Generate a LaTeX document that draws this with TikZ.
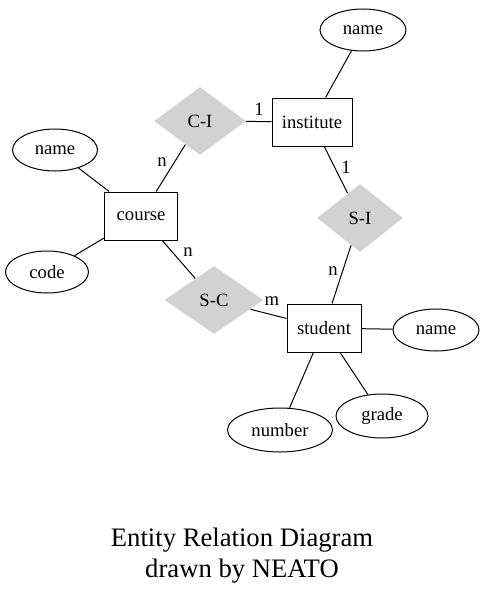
\documentclass[tikz,border=0pt]{standalone}
\usepackage{fontspec}
\setmainfont{Liberation Serif}
\usetikzlibrary{shapes.geometric}

\begin{document}
\begin{tikzpicture}[x=1pt, y=1pt, line width=1pt,
  every node/.style = {font=\fontsize{18.67}{22}\selectfont, inner sep=0pt},
  entity/.style = {draw, rectangle, minimum height=48pt},
  attr/.style = {draw, ellipse, minimum height=42pt},
  rel/.style = {diamond, fill=lightgray!70, minimum height=68pt},
  card/.style = {}]
\useasboundingbox (0,0) rectangle (485,-597);

\node[entity, minimum width=80pt] (institute) at (312, -122) { institute };
\node[entity, minimum width=73pt] (course) at (141, -216) { course };
\node[entity, minimum width=74pt] (student) at (324, -328) { student };

\node[attr, minimum width=86pt] (name_inst) at (363, -30) { name };
\node[attr, minimum width=85pt] (name_course) at (55, -150) { name };
\node[attr, minimum width=83pt] (code) at (47, -272) { code };
\node[attr, minimum width=86pt] (name_student) at (436, -330) { name };
\node[attr, minimum width=105pt, minimum height=44pt] (number) at (280, -430) { number };
\node[attr, minimum width=92pt, minimum height=44pt] (grade) at (382, -416) { grade };

\node[rel, minimum width=92pt] (C_I) at (200, -121) { C-I };
\node[rel, minimum width=86pt] (S_I) at (360, -218) { S-I };
\node[rel, minimum width=99pt] (S_C) at (214, -300) { S-C };

\begin{scope}
\path [color=black] (name_inst) edge (institute);
\path [color=black] (C_I) edge (institute);
\path [color=black] (C_I) edge (course);
\path [color=black] (name_course) edge (course);
\path [color=black] (code) edge (course);
\path [color=black] (institute) edge (S_I);
\path [color=black] (S_I) edge (student);
\path [color=black] (S_C) edge (course);
\path [color=black] (S_C) edge (student);
\path [color=black] (student) edge (name_student);
\path [color=black] (student) edge (number);
\path [color=black] (student) edge (grade);
\end{scope}

\node[card] (ci_inst) at (259, -109) { 1 };
\node[card] (ci_course) at (162, -162) { n };
\node[card] (si_inst) at (346, -167) { 1 };
\node[card] (si_student) at (333, -271) { n };
\node[card] (sc_course) at (188, -252) { n };
\node[card] (sc_student) at (272, -301) { m };

\node[font=\fontsize{26.67}{31}\selectfont, align=center] (title) at (242, -556) {Entity Relation Diagram\\drawn by NEATO};
\end{tikzpicture}
\end{document}
